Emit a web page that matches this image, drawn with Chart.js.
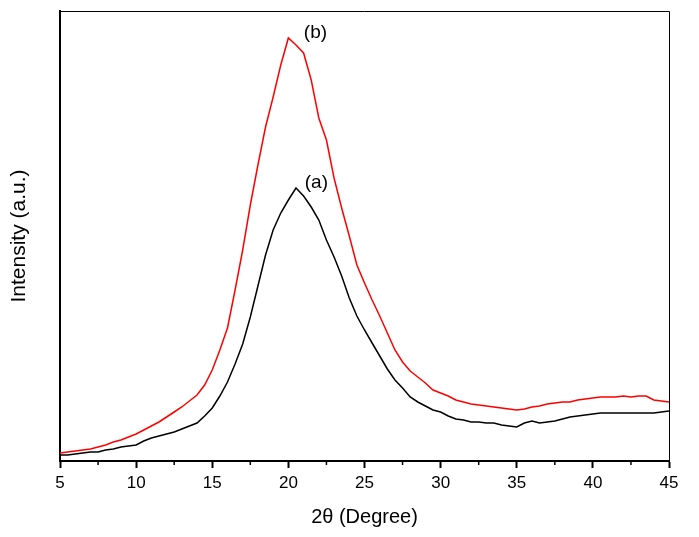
<!DOCTYPE html>
<html>
<head>
<meta charset="utf-8">
<script src="https://cdn.jsdelivr.net/npm/chart.js@4.4.1/dist/chart.umd.min.js"></script>
<style>
  html, body { margin: 0; padding: 0; background: #ffffff; }
  #wrap { width: 699px; height: 537px; }
</style>
</head>
<body>
<div id="wrap"><canvas id="c" width="699" height="537"></canvas></div>
<script>
// 2θ positions (degrees)
const angles = [5, 5.5, 6, 6.5, 7, 7.5, 8, 8.5, 9, 9.5, 10, 10.5, 11, 11.5, 12, 12.5, 13, 13.5, 14, 14.5,
  15, 15.5, 16, 16.5, 17, 17.5, 18, 18.5, 19, 19.5, 20, 20.5, 21, 21.5, 22, 22.5, 23, 23.5, 24, 24.5,
  25, 25.5, 26, 26.5, 27, 27.5, 28, 28.5, 29, 29.5, 30, 30.5, 31, 31.5, 32, 32.5, 33, 33.5, 34, 34.5,
  35, 35.5, 36, 36.5, 37, 37.5, 38, 38.5, 39, 39.5, 40, 40.5, 41, 41.5, 42, 42.5, 43, 43.5, 44, 44.5, 45];

// Sample (a) – black curve, arbitrary intensity units
const intensityA = [6, 6, 7, 8, 9, 9, 11, 12, 14, 15, 16, 20, 23, 25, 27, 29, 32, 35, 38, 45,
  53, 65, 79, 97, 117, 144, 175, 206, 231, 248, 261, 273, 265, 254, 241, 221, 204, 185, 163, 145,
  131, 118, 105, 92, 81, 73, 64, 59, 55, 51, 49, 45, 42, 41, 39, 39, 38, 38, 36, 35,
  34, 38, 40, 38, 39, 40, 42, 44, 45, 46, 47, 48, 48, 48, 48, 48, 48, 48, 48, 49, 50];

// Sample (b) – red curve, arbitrary intensity units
const intensityB = [8, 9, 10, 11, 12, 14, 16, 19, 21, 24, 27, 31, 35, 39, 44, 49, 54, 60, 66, 76,
  91, 111, 133, 171, 211, 256, 296, 334, 364, 396, 423, 416, 408, 381, 343, 321, 283, 253, 225, 196,
  178, 161, 145, 128, 111, 99, 90, 84, 78, 71, 68, 65, 61, 59, 57, 56, 55, 54, 53, 52,
  51, 52, 54, 55, 57, 58, 59, 59, 61, 62, 63, 64, 64, 64, 65, 64, 65, 65, 61, 60, 59];

// Axis ticks
const majorTicks = [5, 10, 15, 20, 25, 30, 35, 40, 45];
const minorTicks = [7.5, 12.5, 17.5, 22.5, 27.5, 32.5, 37.5, 42.5];

// Curve labels
const labelTexts = ['(a)', '(b)'];
const labelAngles = [21.84, 21.78];
const labelIntensities = [278, 428];

const FONT = "'Liberation Sans', Arial, sans-serif";

const frameAndLabels = {
  id: 'frameAndLabels',
  afterDraw(chart) {
    const { ctx, chartArea: a, scales } = chart;
    ctx.save();
    // top and right frame
    ctx.strokeStyle = '#000';
    ctx.lineWidth = 1;
    ctx.beginPath();
    ctx.moveTo(a.left, a.top + 0.5);
    ctx.lineTo(a.right + 0.5, a.top + 0.5);
    ctx.lineTo(a.right + 0.5, a.bottom);
    ctx.stroke();
    // minor ticks
    ctx.lineWidth = 1.5;
    minorTicks.forEach(v => {
      const px = scales.x.getPixelForValue(v);
      ctx.beginPath();
      ctx.moveTo(px, a.bottom);
      ctx.lineTo(px, a.bottom + 4);
      ctx.stroke();
    });
    // curve labels
    ctx.fillStyle = '#000';
    ctx.font = '19px ' + FONT;
    ctx.textAlign = 'center';
    ctx.textBaseline = 'middle';
    labelTexts.forEach((t, i) => {
      ctx.fillText(t, scales.x.getPixelForValue(labelAngles[i]), scales.y.getPixelForValue(labelIntensities[i]));
    });
    ctx.restore();
  }
};

const toPoints = arr => angles.map((x, i) => ({ x, y: arr[i] }));

new Chart(document.getElementById('c'), {
  type: 'line',
  data: {
    datasets: [
      { label: '(a)', data: toPoints(intensityA), borderColor: '#000000', borderWidth: 1.5, pointRadius: 0, tension: 0 },
      { label: '(b)', data: toPoints(intensityB), borderColor: '#ff0000', borderWidth: 1.5, pointRadius: 0, tension: 0 }
    ]
  },
  options: {
    responsive: false,
    devicePixelRatio: 1,
    animation: false,
    layout: { padding: { top: 11, right: 30, bottom: 0, left: 0 } },
    plugins: { legend: { display: false }, tooltip: { enabled: false } },
    scales: {
      x: {
        type: 'linear',
        min: 5, max: 45,
        afterBuildTicks: s => { s.ticks = majorTicks.map(v => ({ value: v })); },
        afterFit: s => { s.height = 76; },
        ticks: { color: '#000', font: { family: FONT, size: 17 }, padding: 5, maxRotation: 0 },
        grid: { display: true, drawOnChartArea: false, drawTicks: true, tickLength: 7, tickWidth: 2, tickColor: '#000', color: '#000' },
        border: { display: true, color: '#000', width: 2 },
        title: { display: true, text: '2θ (Degree)', color: '#000', font: { family: FONT, size: 20 }, padding: { top: 0, bottom: 8 } }
      },
      y: {
        type: 'linear',
        min: 0, max: 450,
        afterFit: s => { s.width = 60; },
        ticks: { display: false },
        grid: { display: false, drawTicks: false },
        border: { display: true, color: '#000', width: 2 },
        title: { display: true, text: 'Intensity (a.u.)', color: '#000', font: { family: FONT, size: 21 }, padding: { top: 7, bottom: 0 } }
      }
    }
  },
  plugins: [frameAndLabels]
});
</script>
</body>
</html>
